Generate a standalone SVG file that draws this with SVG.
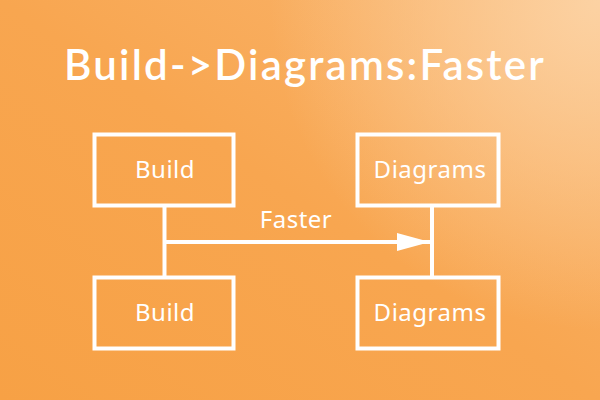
<svg xmlns="http://www.w3.org/2000/svg" width="600" height="400" viewBox="0 0 600 400">
  <defs>
    <linearGradient id="bg" x1="0" y1="1" x2="1" y2="0">
      <stop offset="0" stop-color="#F7A145"/>
      <stop offset="0.5" stop-color="#F8A650"/>
      <stop offset="1" stop-color="#F9B670"/>
    </linearGradient>
    <radialGradient id="glow" cx="600" cy="0" r="330" gradientUnits="userSpaceOnUse">
      <stop offset="0" stop-color="#FCD2A3" stop-opacity="1"/>
      <stop offset="1" stop-color="#FCD2A3" stop-opacity="0"/>
    </radialGradient>
    <marker id="arrow" viewBox="0 0 33 18" refX="33" refY="9" markerWidth="33" markerHeight="18" markerUnits="userSpaceOnUse" orient="auto">
      <path d="M0,0 L33,9 L0,18 Z" fill="#fff"/>
    </marker>
    <style>
      .box { fill: none; stroke: #fff; stroke-width: 4; }
      .line { stroke: #fff; stroke-width: 4; fill: none; }
      .label { font-family: "Noto Sans", "Open Sans", sans-serif; font-size: 24px; fill: #fff; text-anchor: middle; letter-spacing: 0.5px; }
      .title { font-family: Lato, "Open Sans", sans-serif; font-weight: 600; font-size: 42px; fill: #fff; text-anchor: middle; letter-spacing: 2.2px; }
    </style>
  </defs>

  <rect width="600" height="400" fill="url(#bg)"/>
  <rect width="600" height="400" fill="url(#glow)"/>

  <text class="title" x="305" y="80">Build-&gt;Diagrams:Faster</text>

  <!-- lifelines and message -->
  <g id="connectors">
    <line class="line" x1="164.5" y1="206" x2="164.5" y2="278"/>
    <line class="line" x1="432" y1="206" x2="432" y2="278"/>
    <line class="line" x1="164.5" y1="242" x2="430" y2="242" marker-end="url(#arrow)"/>
    <text class="label" x="296" y="228">Faster</text>
  </g>

  <g id="build-top">
    <rect class="box" x="94.5" y="134.5" width="139" height="71"/>
    <text class="label" x="165" y="178">Build</text>
  </g>
  <g id="diagrams-top">
    <rect class="box" x="357.5" y="134.5" width="141" height="71"/>
    <text class="label" x="430" y="178">Diagrams</text>
  </g>
  <g id="build-bottom">
    <rect class="box" x="94.5" y="277.5" width="139" height="71"/>
    <text class="label" x="165" y="321">Build</text>
  </g>
  <g id="diagrams-bottom">
    <rect class="box" x="357.5" y="277.5" width="141" height="71"/>
    <text class="label" x="430" y="321">Diagrams</text>
  </g>
</svg>
